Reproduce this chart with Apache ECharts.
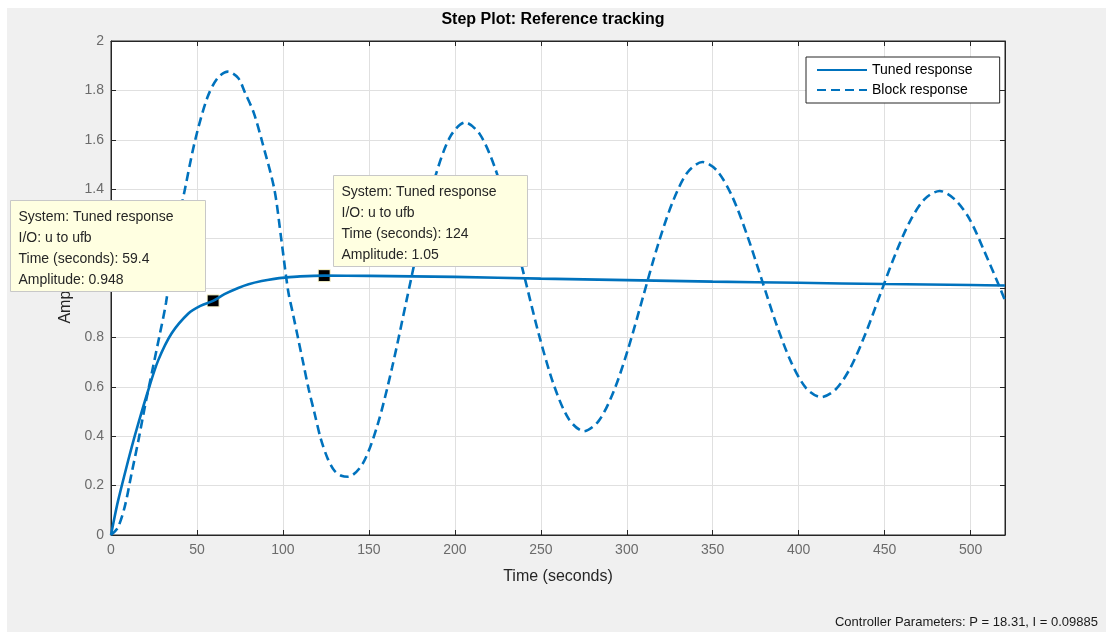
<!DOCTYPE html>
<html>
<head>
<meta charset="utf-8">
<script src="https://cdn.jsdelivr.net/npm/echarts@6/dist/echarts.min.js"></script>
<style>
html,body{margin:0;padding:0;background:#fff;}
#chart{width:1106px;height:632px;}
</style>
</head>
<body>
<div id="chart"></div>
<script>
// ---- data ----
const titleText = 'Step Plot: Reference tracking';
const xAxisName = 'Time (seconds)';
const yAxisName = 'Amplitude';
const seriesNames = ['Tuned response', 'Block response'];
const footerText = 'Controller Parameters: P = 18.31, I = 0.09885';

const tunedT = [0,2,4,8.1,12,15.9,21.7,27.5,35.3,45,52,59.4,66,74,80,87.6,95,101,110,124,150,200,250,300,350,400,450,500,520];
const tunedY = [0,0.07,0.135,0.25,0.355,0.452,0.587,0.708,0.817,0.897,0.928,0.948,0.975,1.0,1.015,1.028,1.037,1.042,1.047,1.05,1.049,1.045,1.038,1.032,1.026,1.021,1.016,1.012,1.01];

const blockT = [0,4,8,12,16,20,24,28,32,37,43,49,56,62,68,74,78,83,88,95,99,103,106,109,112,115,118.5,122,126,130,134,138,146.5,155,163.5,172,180.5,189,197.5,206,214.6,223.3,231.9,240.5,249.1,257.8,266.4,275,283.6,292.3,300.9,309.5,318.1,326.8,335.4,344,352.6,361.3,369.9,378.5,387.1,395.8,404.4,413,421.6,430.3,438.9,447.5,456.1,464.8,473.4,482,490.6,499.3,507.9,516.5,520];
const blockY = [0,0.03,0.115,0.25,0.385,0.53,0.665,0.80,0.94,1.19,1.40,1.60,1.77,1.85,1.876,1.85,1.79,1.71,1.59,1.40,1.20,0.99,0.89,0.79,0.69,0.59,0.49,0.39,0.31,0.26,0.24,0.236,0.29,0.445,0.678,0.953,1.227,1.46,1.615,1.67,1.622,1.487,1.284,1.045,0.806,0.603,0.468,0.42,0.461,0.58,0.756,0.965,1.174,1.35,1.469,1.51,1.474,1.371,1.216,1.034,0.852,0.697,0.594,0.558,0.59,0.68,0.816,0.976,1.135,1.271,1.361,1.393,1.36,1.28,1.15,1.01,0.95];

const tipTimes = [59.4, 124];
const tipAmps = [0.948, 1.05];
const tipSystem = 'Tuned response';
const tipIO = 'u to ufb';

const xMin = 0, xMax = 520, xInterval = 50;
const yMin = 0, yMax = 2, yInterval = 0.2;

// ---- chart ----
const FONT = 'Liberation Sans, Arial, sans-serif';
const BLUE = '#0072BD';
const tunedData = tunedT.map((t, i) => [t, tunedY[i]]);
const blockData = blockT.map((t, i) => [t, blockY[i]]);

function tipLines(i) {
  return ['System: ' + tipSystem, 'I/O: ' + tipIO,
          'Time (seconds): ' + tipTimes[i], 'Amplitude: ' + tipAmps[i]].join('\n');
}
function tipBox(x, y, w, h, i) {
  return {
    type: 'group', left: x, top: y, z: 100,
    children: [
      {type: 'rect', shape: {x: 0, y: 0, width: w, height: h},
       style: {fill: '#ffffe1', stroke: '#c8c8c8', lineWidth: 1}, z: 100},
      {type: 'text', x: 8, y: 6, z: 101,
       style: {text: tipLines(i), font: '14px ' + FONT, fill: '#262626', lineHeight: 21}}
    ]
  };
}

const chart = echarts.init(document.getElementById('chart'));
const axisLineStyle = {color: '#262626', width: 1};
chart.setOption({
  backgroundColor: '#ffffff',
  animation: false,
  title: {
    text: titleText, left: 'center', top: 7,
    textStyle: {fontFamily: FONT, fontSize: 16, fontWeight: 'bold', color: '#000'}
  },
  legend: {
    orient: 'vertical', left: 806, top: 57,
    data: seriesNames,
    itemWidth: 50, itemHeight: 10, itemGap: 6,
    padding: [6, 27, 6, 10],
    itemStyle: {opacity: 0},
    backgroundColor: '#fff', borderColor: '#262626', borderWidth: 1,
    textStyle: {fontFamily: FONT, fontSize: 14, color: '#000'}
  },
  grid: {
    left: 111, top: 41, right: 101, bottom: 97,
    show: true, backgroundColor: '#fff', borderColor: '#262626', borderWidth: 1
  },
  xAxis: [{
    type: 'value', min: xMin, max: xMax, interval: xInterval,
    name: xAxisName, nameLocation: 'middle', nameGap: 34,
    nameTextStyle: {fontFamily: FONT, fontSize: 16, color: '#262626'},
    axisLine: {onZero: false, lineStyle: axisLineStyle},
    axisTick: {inside: true, length: 5, lineStyle: axisLineStyle},
    axisLabel: {showMaxLabel: false, fontFamily: FONT, fontSize: 14, color: '#6b6b6b', margin: 8},
    splitLine: {show: true, lineStyle: {color: '#e0e0e0', width: 1}}
  }, {
    type: 'value', position: 'top', min: xMin, max: xMax, interval: xInterval,
    axisLine: {onZero: false, lineStyle: axisLineStyle},
    axisTick: {inside: true, length: 5, lineStyle: axisLineStyle},
    axisLabel: {show: false}, splitLine: {show: false}
  }],
  yAxis: [{
    type: 'value', min: yMin, max: yMax, interval: yInterval,
    name: yAxisName, nameLocation: 'middle', nameGap: 36,
    nameTextStyle: {fontFamily: FONT, fontSize: 16, color: '#262626'},
    axisLine: {show: true, onZero: false, lineStyle: axisLineStyle},
    axisTick: {show: true, inside: true, length: 5, lineStyle: axisLineStyle},
    axisLabel: {fontFamily: FONT, fontSize: 14, color: '#6b6b6b', margin: 7},
    splitLine: {show: true, lineStyle: {color: '#e0e0e0', width: 1}}
  }, {
    type: 'value', position: 'right', min: yMin, max: yMax, interval: yInterval,
    axisLine: {show: true, onZero: false, lineStyle: axisLineStyle},
    axisTick: {show: true, inside: true, length: 5, lineStyle: axisLineStyle},
    axisLabel: {show: false}, splitLine: {show: false}
  }],
  series: [{
    name: seriesNames[0], type: 'line', data: tunedData,
    xAxisIndex: 0, yAxisIndex: 0,
    symbol: 'none', smooth: 0.3, z: 5,
    lineStyle: {color: BLUE, width: 2.6},
    itemStyle: {color: BLUE},
    markPoint: {
      symbol: 'rect', symbolSize: 12, animation: false,
      itemStyle: {color: '#000', borderColor: '#fffbd0', borderWidth: 1},
      label: {show: false},
      data: tipTimes.map((t, i) => ({coord: [t, tipAmps[i]]}))
    }
  }, {
    name: seriesNames[1], type: 'line', data: blockData,
    xAxisIndex: 0, yAxisIndex: 0,
    symbol: 'none', smooth: 0.3, z: 4,
    lineStyle: {color: BLUE, width: 2.6, type: [9, 5]},
    itemStyle: {color: BLUE}
  }],
  graphic: {elements: [
    {type: 'rect', left: 7, top: 8, z: -100, silent: true,
     shape: {width: 1099, height: 624}, style: {fill: '#f0f0f0'}},
    tipBox(10, 200, 195, 91, 0),
    tipBox(333, 175, 194, 91, 1),
    {type: 'text', right: 8, top: 616, z: 50,
     style: {text: footerText, font: '13px ' + FONT, fill: '#1a1a1a'}}
  ]}
});
</script>
</body>
</html>
